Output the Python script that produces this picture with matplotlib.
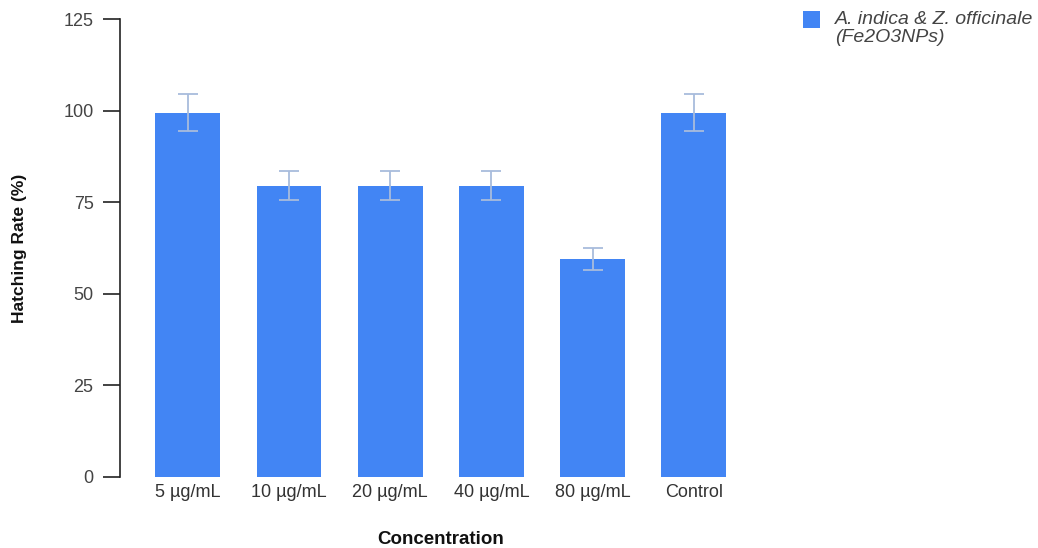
import matplotlib
matplotlib.use("Agg")
import matplotlib.pyplot as plt
from matplotlib.patches import Rectangle

categories = ["5 µg/mL", "10 µg/mL", "20 µg/mL", "40 µg/mL", "80 µg/mL", "Control"]
values = [99.5, 79.5, 79.5, 79.5, 59.5, 99.5]
errors = [5, 4, 4, 4, 3, 5]
series_name = ["A. indica & Z. officinale", "(Fe2O3NPs)"]

plt.rcParams['font.family'] = ['Liberation Sans', 'DejaVu Sans']

W, H = 1038, 548
fig = plt.figure(figsize=(W / 100, H / 100), dpi=100)
ax = fig.add_axes([0.1156, 0.1296, 0.618, 0.8354])

x = range(len(categories))
ax.bar(x, values, width=0.64, color="#4285F4", zorder=2)
ax.errorbar(x, values, yerr=errors, fmt='none', ecolor="#a8bcdc", elinewidth=1.3,
            capsize=7.5, capthick=1.3, zorder=3)

ax.set_xlim(-0.67, 5.67)
ax.set_ylim(0, 125)
ax.set_yticks([0, 25, 50, 75, 100, 125])
ax.set_xticks(list(x))
ax.set_xticklabels(categories)
for s in ["top", "right", "bottom"]:
    ax.spines[s].set_visible(False)
ax.spines["left"].set_color("#222222")
ax.spines["left"].set_linewidth(1.2)
ax.tick_params(axis='y', length=12, width=1.2, color="#222222", labelsize=13, labelcolor="#444444", pad=7)
ax.tick_params(axis='x', length=0, labelsize=13, labelcolor="#333333", pad=5)

ax.set_ylabel("Hatching Rate (%)", fontsize=12.5, fontweight='bold', labelpad=26, color="#111111")
ax.set_xlabel("Concentration", fontsize=13.5, fontweight='bold', labelpad=22, color="#111111")

# legend (drawn manually so the swatch aligns with the first text line)
fig.patches.append(Rectangle((803 / W, 1 - 28 / H), 17 / W, 17 / H, transform=fig.transFigure,
                             facecolor="#4285F4", edgecolor="none"))
fig.text(835 / W, 1 - 19.5 / H, series_name[0], ha="left", va="center", fontsize=14,
         style="italic", color="#444444")
fig.text(835 / W, 1 - 38 / H, series_name[1], ha="left", va="center", fontsize=14,
         style="italic", color="#444444")

fig.savefig("out.png", dpi=100)
